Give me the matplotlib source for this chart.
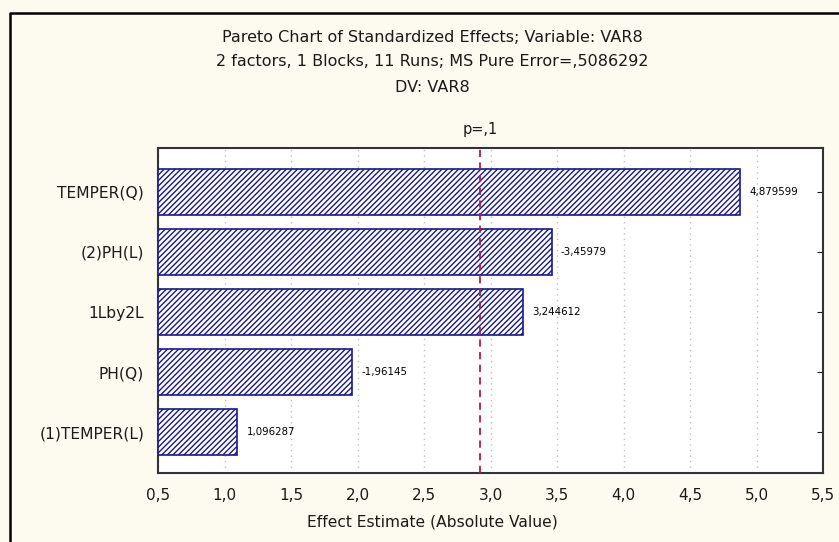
import matplotlib
matplotlib.use("Agg")
import matplotlib.pyplot as plt
from matplotlib.lines import Line2D
from matplotlib.ticker import FuncFormatter, MultipleLocator

# ---- data ----
factors = ["TEMPER(Q)", "(2)PH(L)", "1Lby2L", "PH(Q)", "(1)TEMPER(L)"]
effects = [4.879599, -3.45979, 3.244612, -1.96145, 1.096287]
p_crit = 2.919986
title_lines = ["Pareto Chart of Standardized Effects; Variable: VAR8",
               "2 factors, 1 Blocks, 11 Runs; MS Pure Error=,5086292",
               "DV: VAR8"]
xlabel = "Effect Estimate (Absolute Value)"

plt.rcParams['font.family'] = ['DejaVu Sans']
plt.rcParams['hatch.linewidth'] = 1.0
plt.rcParams['text.color'] = '#1a1a1a'
plt.rcParams['xtick.color'] = '#1a1a1a'
plt.rcParams['ytick.color'] = '#1a1a1a'

W, H = 839, 542
bg = '#FDFBEF'
fig = plt.figure(figsize=(W / 100, H / 100), dpi=100, facecolor=bg)
ax = fig.add_axes([158 / W, 1 - 473 / H, 665 / W, 325 / H])
ax.set_facecolor('white')

ypos = list(range(len(factors)))
absvals = [abs(v) for v in effects]
ax.barh(ypos, [a - 0.5 for a in absvals], left=0.5, height=0.77,
        color='white', edgecolor='#18188f', hatch='//////', linewidth=1.2, zorder=3)

for y, v in zip(ypos, effects):
    ax.text(abs(v) + 0.07, y, str(v).replace('.', ','), fontsize=7.4,
            va='center', ha='left', color='black', zorder=4)

ax.axvline(p_crit, color='#b02040', linestyle=(0, (4, 3)), linewidth=1.3, zorder=5)
ax.text(p_crit, -0.73 - 0.3, "p=,1", ha='center', va='center', fontsize=10.5)

ax.set_xlim(0.5, 5.5)
ax.set_ylim(4.68, -0.73)
ax.xaxis.set_major_locator(MultipleLocator(0.5))
ax.xaxis.set_major_formatter(FuncFormatter(lambda x, p: f"{x:.1f}".replace('.', ',')))
ax.set_yticks(ypos)
ax.set_yticklabels(factors)
ax.grid(axis='x', color='#c0c0c0', linestyle=(0, (1, 3)), linewidth=1.0, zorder=0)
ax.set_axisbelow(True)

ax.tick_params(axis='x', length=0, pad=11, labelsize=11)
ax.tick_params(axis='y', length=4, direction='in', left=False, right=True,
               labelsize=11.2, pad=10)
for s in ax.spines.values():
    s.set_color('#333333')
    s.set_linewidth(1.5)

fig.text(432 / W, 1 - 522 / H, xlabel, ha='center', va='center', fontsize=11.2)
for yy, t in zip([37, 62, 88], title_lines):
    fig.text(432 / W, 1 - yy / H, t, ha='center', va='center', fontsize=11.5)

fig.add_artist(Line2D([10 / W, 10 / W, 1.01], [-0.01, 1 - 13 / H, 1 - 13 / H],
                      transform=fig.transFigure, color='black', linewidth=1.8))

fig.savefig("out.png", dpi=100, facecolor=bg)
